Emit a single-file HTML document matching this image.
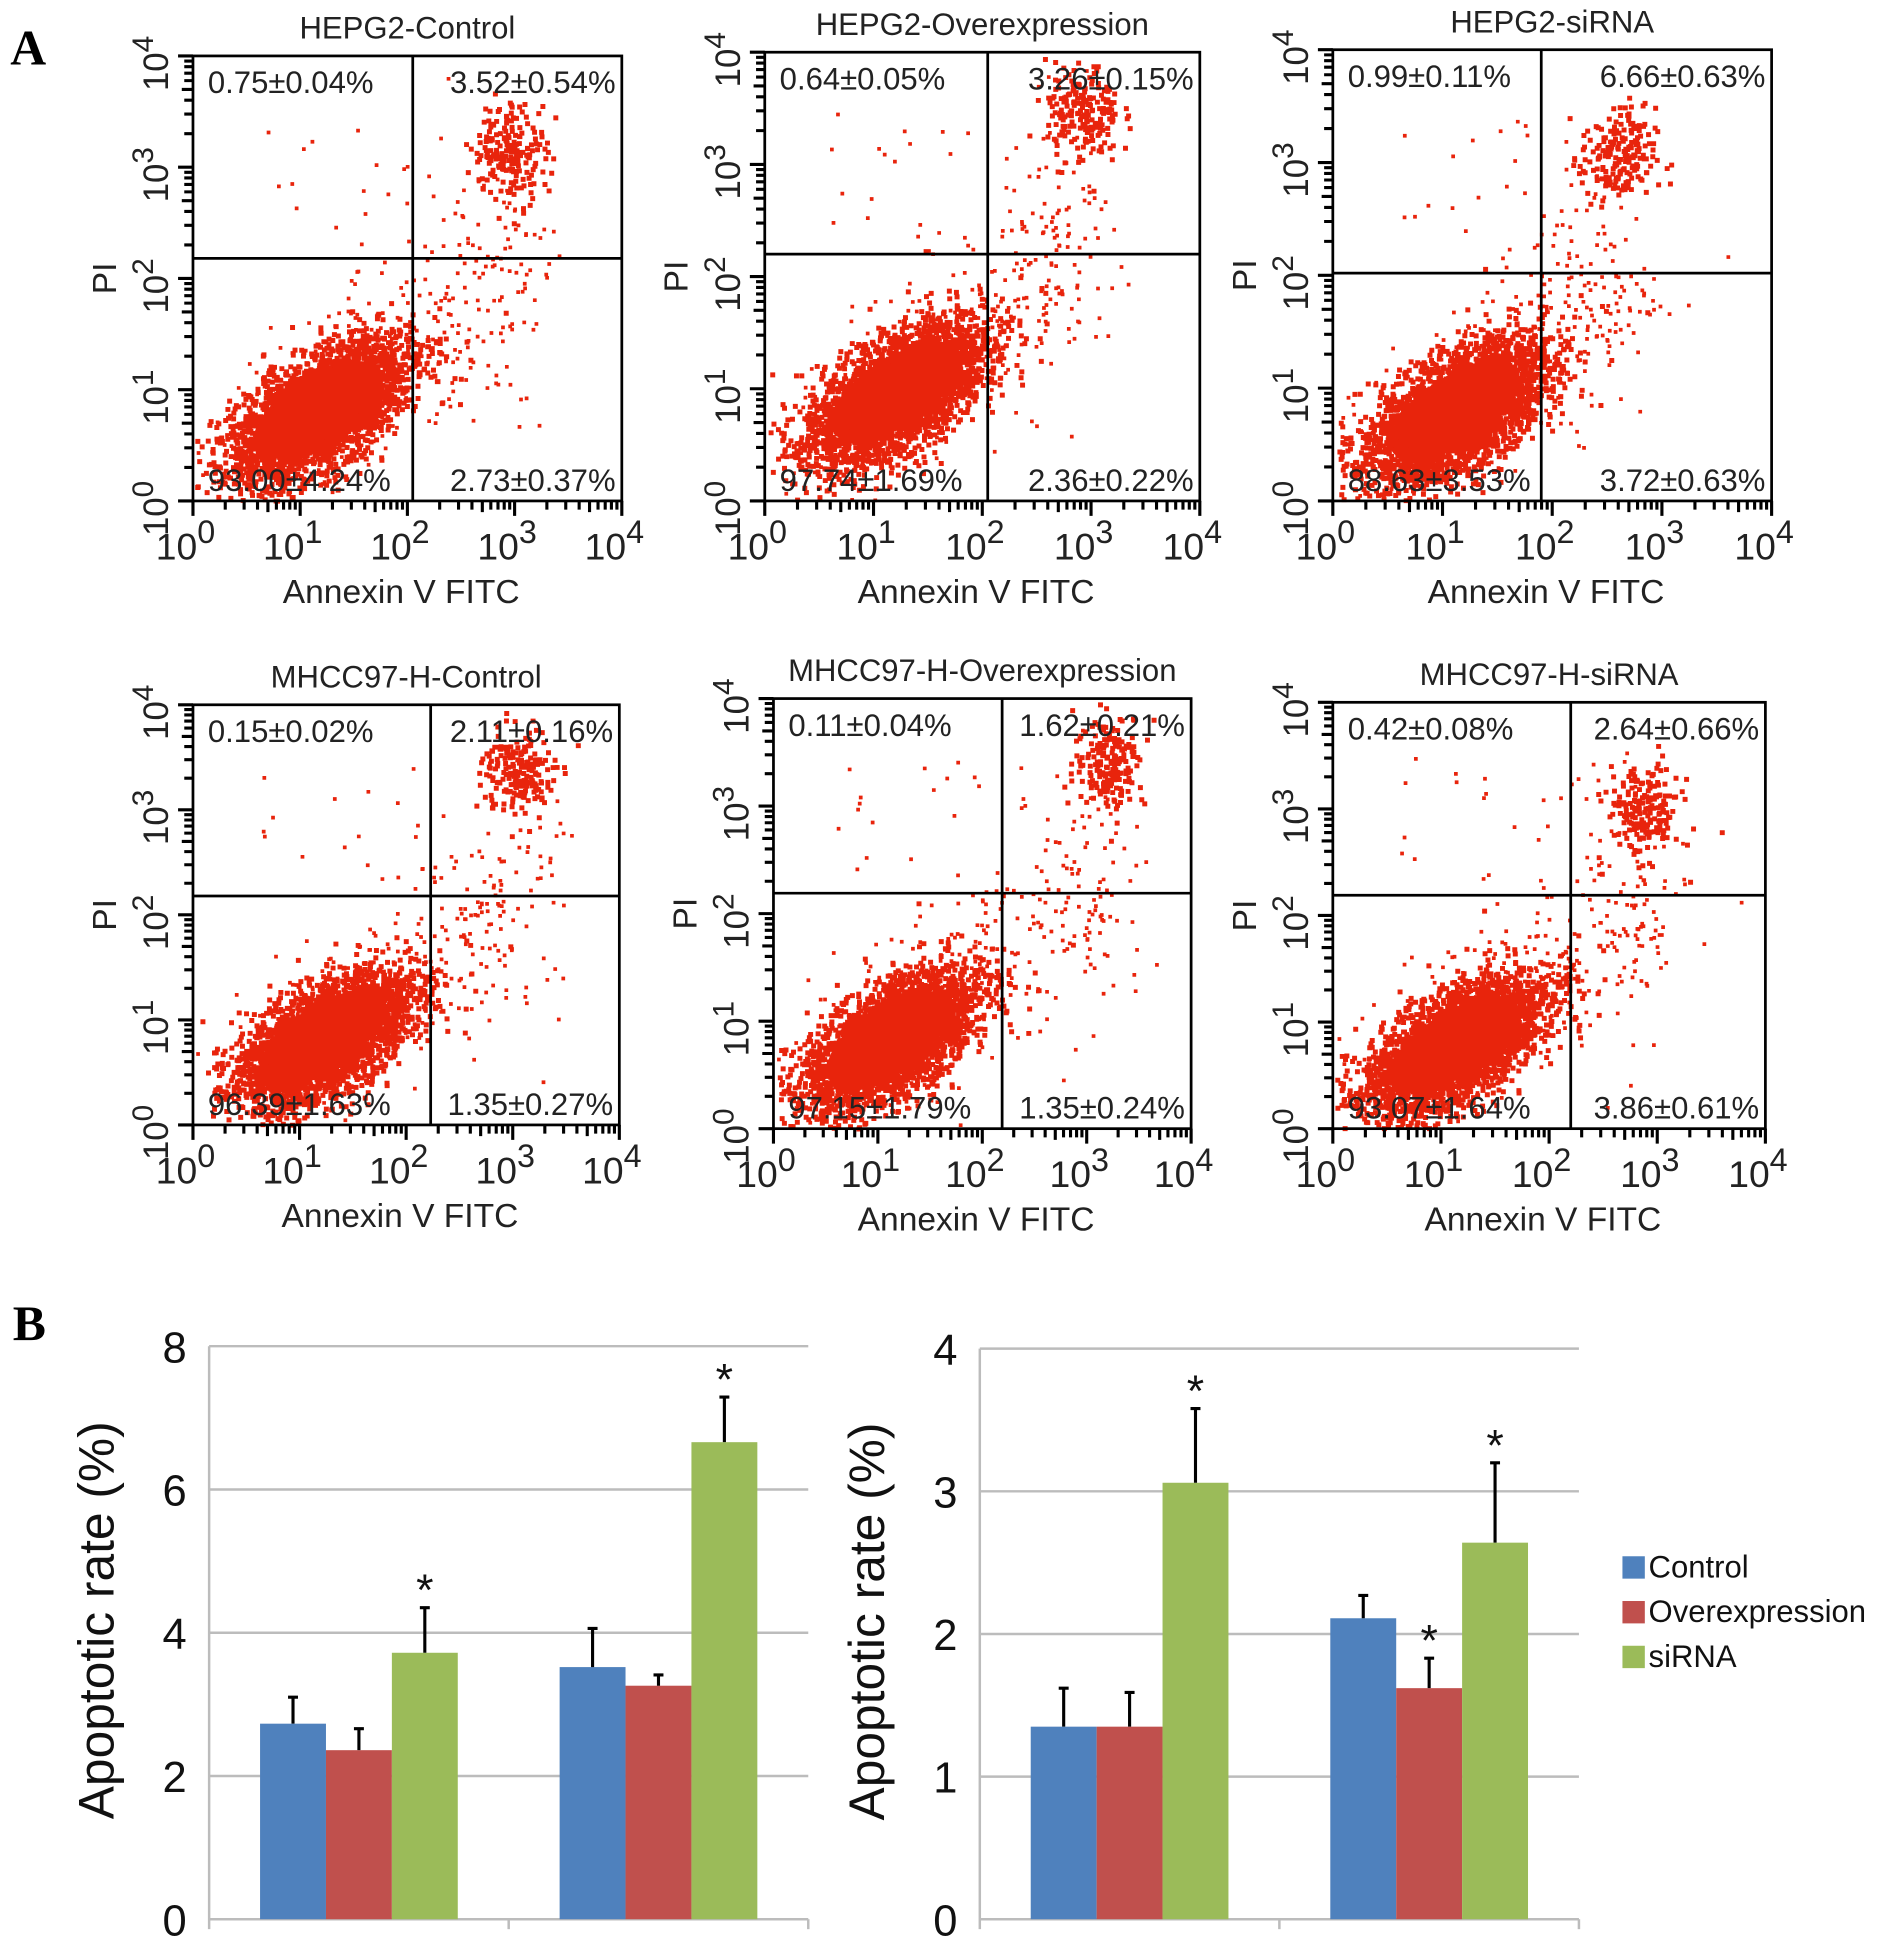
<!DOCTYPE html>
<html><head><meta charset="utf-8"><style>
html,body{margin:0;padding:0;background:#fff;}
svg{display:block;font-family:"Liberation Sans",sans-serif;}
</style></head><body>
<svg id="fig" xmlns="http://www.w3.org/2000/svg" width="1890" height="1959" viewBox="0 0 1520 1576">
<text x="8" y="52" font-family="Liberation Serif,serif" font-weight="bold" font-size="40">A</text>
<text x="10" y="1078" font-family="Liberation Serif,serif" font-weight="bold" font-size="40">B</text>
<g id="flow"></g>
<g id="bars"></g>
</svg>
<script>
// ---------- bar chart data ----------
const groups = ["HEPG2","MHCC97-H"];
const seriesNames = ["Control","Overexpression","siRNA"];
const seriesColors = ["#4f81bd","#c0504d","#9bbb59"];
const hepMeans = [[2.73,3.52],[2.36,3.26],[3.72,6.66]];
const hepErr   = [[0.37,0.54],[0.30,0.15],[0.63,0.63]];
const hepStar  = [[0,0],[0,0],[1,1]];
const mhMeans  = [[1.35,2.11],[1.35,1.62],[3.06,2.64]];
const mhErr    = [[0.27,0.16],[0.24,0.21],[0.52,0.56]];
const mhStar   = [[0,0],[0,1],[1,1]];
const hepTicks = ["0","2","4","6","8"];
const mhTicks  = ["0","1","2","3","4"];

// ---------- flow data ----------
const flowTitles = ["HEPG2-Control","HEPG2-Overexpression","HEPG2-siRNA","MHCC97-H-Control","MHCC97-H-Overexpression","MHCC97-H-siRNA"];
const flowQuad = [
 ["0.75±0.04%","3.52±0.54%","93.00±4.24%","2.73±0.37%"],
 ["0.64±0.05%","3.26±0.15%","97.74±1.69%","2.36±0.22%"],
 ["0.99±0.11%","6.66±0.63%","88.63±3.53%","3.72±0.63%"],
 ["0.15±0.02%","2.11±0.16%","96.39±1.63%","1.35±0.27%"],
 ["0.11±0.04%","1.62±0.21%","97.15±1.79%","1.35±0.24%"],
 ["0.42±0.08%","2.64±0.66%","93.07±1.64%","3.86±0.61%"]];
const flowCore = [[1.16,0.82],[1.2,0.97],[1.11,0.8],[1.22,0.83],[1.11,0.84],[1.12,0.79]];
const flowQ2 = [[2.94,3.16],[2.9,3.47],[2.58,3.06],[3.03,3.37],[3.2,3.44],[2.85,3.0]];
const flowGate = [[2.05,2.18],[2.05,2.2],[1.9,2.02],[2.23,2.18],[2.19,2.19],[2.2,2.19]];

const NS="http://www.w3.org/2000/svg";
function mk(tag,attrs,parent){const e=document.createElementNS(NS,tag);for(const k in attrs)e.setAttribute(k,attrs[k]);parent.appendChild(e);return e;}
let seed=12345;function rnd(){seed=(seed*1103515245+12345)%2147483648;return seed/2147483648;}
function gauss(){let u=rnd()||1e-6,v=rnd();return Math.sqrt(-2*Math.log(u))*Math.cos(2*Math.PI*v);}

const boxes=[[155,500,45,403],[615,965,42,403],[1072,1425,40,403],[155,498,567,905],[622,958,562,908],[1072,1420,565,908]];
const flowG=document.getElementById('flow');
boxes.forEach((b,i)=>{
  const [x0,x1,y0,y1]=b;const g=mk('g',{},flowG);
  
  
  const sx=v=>x0+(x1-x0)*v/4, sy=v=>y1-(y1-y0)*v/4;
  const dots=mk('g',{fill:'#e8240c'},g);
  
  
  const [cx,cy]=flowCore[i];
  let d='';
  const add=(lx,ly,s)=>{if(lx<0.02||lx>3.98||ly<0.02||ly>3.98)return;const px=sx(lx),py=sy(ly);d+=`M${px.toFixed(1)} ${py.toFixed(1)}h${s}v${s}h-${s}z`;};
  // dense core ellipse
  const ex=sx(cx), ey=sy(cy);
  const core=mk('ellipse',{cx:ex,cy:ey,rx:(x1-x0)*0.17,ry:(y1-y0)*0.075,transform:`rotate(-33 ${ex} ${ey})`,fill:'#e8240c'},dots);
  
  for(let k=0;k<3500;k++){const a=gauss()*0.45,bb=gauss()*0.22;add(cx+a*0.85-bb*0.5,cy+a*0.55+bb*0.85,4);}
  for(let k=0;k<250;k++){const a=gauss()*0.8,bb=gauss()*0.35;add(cx+0.3+a*0.8-bb*0.5,cy+0.3+a*0.6+bb*0.8,3);}
  const [qx,qy]=flowQ2[i];
  for(let k=0;k<200;k++){add(qx+gauss()*0.17,qy+gauss()*0.22,4);}
  for(let k=0;k<100;k++){add(qx-0.2+gauss()*0.3,(qy+cy)/2+gauss()*0.6,3);}
  for(let k=0;k<20;k++){add(0.6+rnd()*1.8,2.3+rnd()*1.2,3);}
  mk('path',{d:d},dots);
  const r=mk('rect',{x:x0,y:y0,width:x1-x0,height:y1-y0,fill:'none',stroke:'#000','stroke-width':2.2},g);
  
  const [gx,gy]=flowGate[i];
  const vl=mk('line',{x1:sx(gx),x2:sx(gx),y1:y0,y2:y1,stroke:'#000','stroke-width':2.2},g);
  
  const hl=mk('line',{x1:x0,x2:x1,y1:sy(gy),y2:sy(gy),stroke:'#000','stroke-width':2.2},g);
  
  let td='';
  for(let dec=0;dec<4;dec++)for(let k=1;k<10;k++){const v=dec+Math.log10(k);const L=k==1?12:(k==5?9:7);td+=`M${sx(v)} ${y1}v${L}M${x0} ${sy(v)}h-${L}`;}
  td+=`M${x1} ${y1}v12M${x0} ${y0}h-12`;
  mk('path',{d:td,stroke:'#000','stroke-width':2.5,fill:'none'},g);
  for(let t=0;t<=4;t++){
    const tx=mk('text',{x:sx(t)-6,y:y1+47,'font-size':30,'text-anchor':'middle',fill:'#222'},g);
    
    tx.innerHTML=`10<tspan dy="-13" font-size="26">${t}</tspan>`;
    const ty=mk('text',{transform:`translate(${x0-20},${sy(t)+6}) rotate(-90)`,'font-size':28,'text-anchor':'middle',fill:'#222'},g);
    
    ty.innerHTML=`10<tspan dy="-12" font-size="24">${t}</tspan>`;
  }
  const xt=mk('text',{x:(x0+x1)/2-5,y:y1+82,'font-size':27,'text-anchor':'middle',fill:'#222'},g);
  xt.textContent='Annexin V FITC';
  const yt=mk('text',{transform:`translate(${x0-62},${(y0+y1)/2}) rotate(-90)`,'font-size':27,'text-anchor':'middle',fill:'#222'},g);
  yt.textContent='PI';
  const tt=mk('text',{x:(x0+x1)/2,y:y0-14,'font-size':25,'text-anchor':'middle',fill:'#222'},g);
  tt.textContent=flowTitles[i];
  const q=flowQuad[i];
  const pos=[[x0+12,y0+30,'start'],[x1-5,y0+30,'end'],[x0+12,y1-8,'start'],[x1-5,y1-8,'end']];
  pos.forEach((p,k)=>{const e=mk('text',{x:p[0],y:p[1],'font-size':25,'text-anchor':p[2],fill:'#222'},g);
    e.textContent=q[k];});
});

// ---------- bar charts ----------
const barG=document.getElementById('bars');
function barChart(ax,right,top,bottom,maxV,ticks,means,errs,stars,name){
  const g=mk('g',{},barG);
  
  const sy=v=>bottom-(bottom-top)*v/maxV;
  ticks.forEach((t,k)=>{const v=maxV*k/(ticks.length-1);
    const l=mk('line',{x1:ax,x2:right,y1:sy(v),y2:sy(v),stroke:'#bcbcbc','stroke-width':2},g);
    
    const e=mk('text',{x:ax-18,y:sy(v)+13,'font-size':35,'text-anchor':'end',fill:'#111'},g);
    e.textContent=t;});
  const al=mk('line',{x1:ax,x2:ax,y1:top,y2:bottom+8,stroke:'#bcbcbc','stroke-width':2},g);
  
  const gw=(right-ax)/groups.length;
  const dv=mk('line',{x1:ax+gw,x2:ax+gw,y1:bottom,y2:bottom+8,stroke:'#bcbcbc','stroke-width':2},g);
  
  const rt=mk('line',{x1:right,x2:right,y1:bottom,y2:bottom+8,stroke:'#bcbcbc','stroke-width':2},g);
  
  const bw=gw*0.22;
  for(let gi=0;gi<groups.length;gi++)for(let s=0;s<3;s++){
    const x=ax+gw*gi+gw*0.5-1.5*bw+s*bw;const v=means[s][gi];
    const r=mk('rect',{x:x,y:sy(v),width:bw,height:bottom-sy(v),fill:seriesColors[s]},g);
    
    const cx=x+bw/2,ye=sy(v+errs[s][gi]);
    const eb=mk('path',{d:`M${cx} ${sy(v)}V${ye}M${cx-4} ${ye}h8`,stroke:'#000','stroke-width':2.5,fill:'none'},g);
    
    if(stars[s][gi]){const st=mk('text',{x:cx,y:ye-2,'font-size':36,'text-anchor':'middle',fill:'#111'},g);
      st.textContent='*';}
  }
  const yt=mk('text',{transform:`translate(${ax-77},${(top+bottom)/2-10}) rotate(-90)`,'font-size':40,'text-anchor':'middle',fill:'#111'},g);
  yt.textContent='Apoptotic rate (%)';
}
barChart(168,650,1083,1544,8,hepTicks,hepMeans,hepErr,hepStar,'hepg2-bar-chart');
barChart(788,1270,1085,1544,4,mhTicks,mhMeans,mhErr,mhStar,'mhcc97h-bar-chart');
const lg=mk('g',{},barG);

seriesNames.forEach((n,k)=>{const y=1252+k*36;
  const r=mk('rect',{x:1305,y:y,width:18,height:18,fill:seriesColors[k]},lg);
  
  const t=mk('text',{x:1326,y:y+17,'font-size':25,fill:'#111'},lg);
  t.textContent=n;});
</script>
</body></html>
